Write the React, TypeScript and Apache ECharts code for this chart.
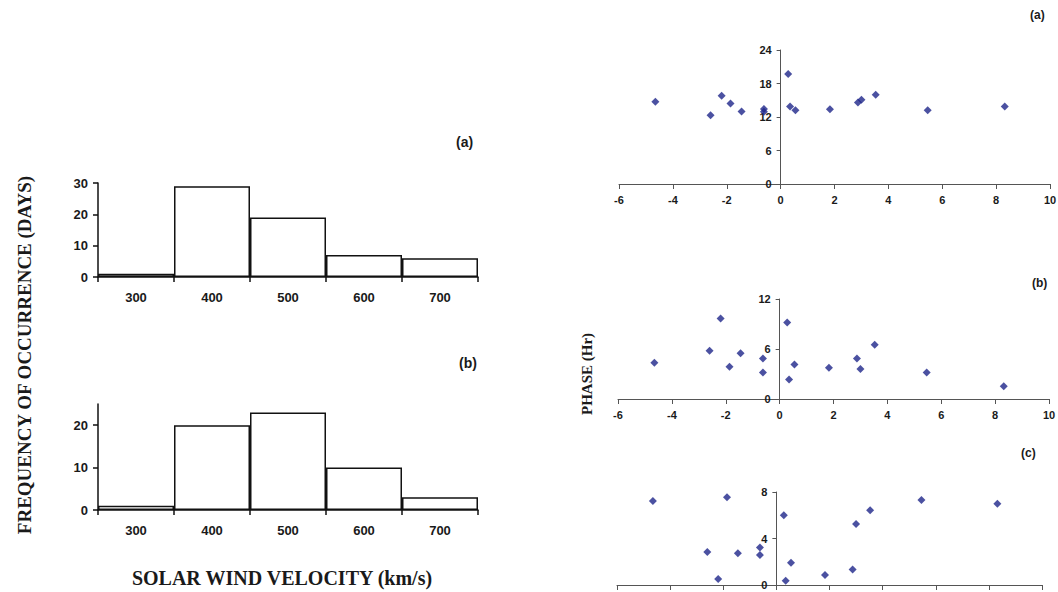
import React, { useEffect, useRef } from "react";
import * as echarts from "echarts";

const velocityBins = ["300", "400", "500", "600", "700"];
const freqA = [1, 29, 19, 7, 6];
const freqB = [1, 20, 23, 10, 3];

const scatterX = [-4.65, -2.6, -2.19, -1.86, -1.45, -0.62, -0.62, 0.28, 0.35, 0.55, 1.83, 2.87, 3.0, 3.53, 5.46, 8.32];
const scatterA = [14.75, 12.3, 15.8, 14.4, 13.0, 13.45, 12.95, 19.7, 13.9, 13.2, 13.4, 14.6, 15.1, 16.0, 13.2, 13.9];
const scatterB = [4.34, 5.78, 9.65, 3.87, 5.5, 4.86, 3.19, 9.17, 2.35, 4.15, 3.75, 4.86, 3.59, 6.5, 3.19, 1.52];
const scatterC = [7.22, 2.83, 0.51, 7.54, 2.74, 3.23, 2.57, 6.0, 0.37, 1.91, 0.86, 1.34, 5.25, 6.43, 7.31, 7.0];

const xMin = -6;
const xMax = 10;
const xInterval = 2;

const pairs = (ys: number[]) => scatterX.map((x, i) => [x, ys[i]]);

export default function App() {
  const ref = useRef<HTMLDivElement>(null);
  useEffect(() => {
    if (!ref.current) return;
    const chart = echarts.init(ref.current, null, { renderer: "svg" });
    const sans = "Arial, 'Liberation Sans', sans-serif";
    const serif = "'Times New Roman', 'Liberation Serif', serif";
    const histLabel = { fontFamily: sans, fontWeight: "bold" as const, fontSize: 13, color: "#1a1a1a" };
    const scLabel = { fontFamily: sans, fontWeight: "bold" as const, fontSize: 11, color: "#1a1a1a" };
    const histAxisLine = { show: true, onZero: false, lineStyle: { color: "#111", width: 1.5 } };
    const scAxisLine = { show: true, onZero: false, lineStyle: { color: "#555", width: 1 } };

    const histX = (gi: number) => ({
      type: "category",
      gridIndex: gi,
      data: velocityBins,
      boundaryGap: true,
      axisLine: histAxisLine,
      axisTick: { show: true, length: 5, lineStyle: { color: "#111", width: 1.5 } },
      axisLabel: { ...histLabel, margin: 14 },
      splitLine: { show: false },
    });
    const scX = (gi: number, showLabels: boolean) => ({
      type: "value",
      gridIndex: gi,
      min: xMin,
      max: xMax,
      interval: xInterval,
      axisLine: scAxisLine,
      axisTick: { show: true, length: 5, lineStyle: { color: "#555" } },
      axisLabel: { ...scLabel, margin: 10, show: showLabels },
      splitLine: { show: false },
    });
    // y axis placed at x = 0 of the x axis via a negative offset
    const scY = (gi: number, max: number, interval: number, width: number) => ({
      type: "value",
      gridIndex: gi,
      min: 0,
      max,
      interval,
      offset: -((0 - xMin) / (xMax - xMin)) * width,
      axisLine: scAxisLine,
      axisTick: { show: true, length: 4, lineStyle: { color: "#555" } },
      axisLabel: { ...scLabel, margin: 9 },
      splitLine: { show: false },
    });

    const scatterSeries = (gi: number, ys: number[]) => ({
      type: "scatter",
      xAxisIndex: gi,
      yAxisIndex: gi,
      data: pairs(ys),
      symbol: "diamond",
      symbolSize: 8,
      itemStyle: { color: "#1E2689" },
    });

    const barSeries = (gi: number, vals: number[]) => ({
      type: "bar",
      xAxisIndex: gi,
      yAxisIndex: gi,
      data: vals,
      barCategoryGap: "0%",
      itemStyle: { color: "#ffffff", borderColor: "#111", borderWidth: 1.5 },
    });

    const gw = [431, 431, 425];
    const gridBase = { outerBoundsMode: "none", containLabel: false };

    chart.setOption({
      animation: false,
      backgroundColor: "#ffffff",
      grid: [
        { ...gridBase, left: 98, top: 183, width: 380, height: 94 },
        { ...gridBase, left: 98, top: 404, width: 380, height: 106 },
        { ...gridBase, left: 619, top: 50, width: gw[0], height: 134 },
        { ...gridBase, left: 618, top: 299, width: gw[1], height: 100 },
        { ...gridBase, left: 617, top: 492, width: gw[2], height: 93 },
      ],
      xAxis: [histX(0), histX(1), scX(2, true), scX(3, true), scX(4, false)],
      yAxis: [
        {
          type: "value",
          gridIndex: 0,
          min: 0,
          max: 30,
          interval: 10,
          axisLine: histAxisLine,
          axisTick: { show: true, length: 5, lineStyle: { color: "#111", width: 1.5 } },
          axisLabel: { ...histLabel, margin: 10 },
          splitLine: { show: false },
        },
        {
          type: "value",
          gridIndex: 1,
          min: 0,
          max: 25,
          interval: 10,
          axisLine: histAxisLine,
          axisTick: { show: true, length: 5, customValues: [0, 10, 20], lineStyle: { color: "#111", width: 1.5 } },
          axisLabel: { ...histLabel, margin: 10, customValues: [0, 10, 20] },
          splitLine: { show: false },
        },
        scY(2, 24, 6, gw[0]),
        scY(3, 12, 6, gw[1]),
        scY(4, 8, 4, gw[2]),
      ],
      series: [
        barSeries(0, freqA),
        barSeries(1, freqB),
        scatterSeries(2, scatterA),
        scatterSeries(3, scatterB),
        scatterSeries(4, scatterC),
      ],
      graphic: [
        { type: "text", left: 456, top: 135, style: { text: "(a)", font: `bold 14px ${sans}`, fill: "#1a1a1a" } },
        { type: "text", left: 459, top: 356, style: { text: "(b)", font: `bold 14px ${sans}`, fill: "#1a1a1a" } },
        { type: "text", left: 1030, top: 9, style: { text: "(a)", font: `bold 12px ${sans}`, fill: "#1a1a1a" } },
        { type: "text", left: 1032, top: 277, style: { text: "(b)", font: `bold 12px ${sans}`, fill: "#1a1a1a" } },
        { type: "text", left: 1021, top: 447, style: { text: "(c)", font: `bold 12px ${sans}`, fill: "#1a1a1a" } },
        {
          type: "text",
          x: 282,
          y: 578,
          style: {
            text: "SOLAR WIND VELOCITY (km/s)",
            font: `bold 20px ${serif}`,
            fill: "#1a1a1a",
            align: "center",
            verticalAlign: "middle",
          },
        },
        {
          type: "text",
          x: 24,
          y: 355,
          rotation: Math.PI / 2,
          style: {
            text: "FREQUENCY OF OCCURRENCE (DAYS)",
            font: `bold 19px ${serif}`,
            fill: "#1a1a1a",
            align: "center",
            verticalAlign: "middle",
          },
        },
        {
          type: "text",
          x: 587,
          y: 374,
          rotation: Math.PI / 2,
          style: {
            text: "PHASE (Hr)",
            font: `bold 15px ${serif}`,
            fill: "#1a1a1a",
            align: "center",
            verticalAlign: "middle",
          },
        },
      ],
    });
    return () => chart.dispose();
  }, []);
  return (
    <div
      ref={ref}
      style={{ position: "fixed", left: 0, top: 0, width: 1058, height: 592, background: "#fff" }}
    />
  );
}
